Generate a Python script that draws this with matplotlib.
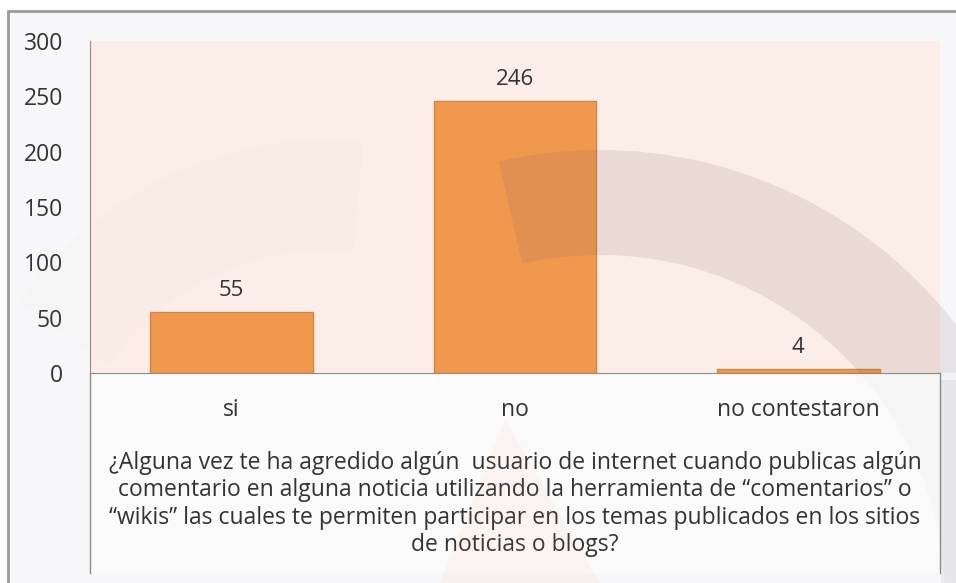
import matplotlib.pyplot as plt
from matplotlib.lines import Line2D
from matplotlib.patches import Rectangle, Wedge, Polygon
from matplotlib.transforms import Affine2D

categories = ['si', 'no', 'no contestaron']
values = [55, 246, 4]
y_ticks = [0, 50, 100, 150, 200, 250, 300]
question = ('¿Alguna vez te ha agredido algún  usuario de internet cuando publicas algún\n'
            'comentario en alguna noticia utilizando la herramienta de “comentarios” o\n'
            '“wikis” las cuales te permiten participar en los temas publicados en los sitios\n'
            'de noticias o blogs?')

plt.rcParams['font.family'] = ['Open Sans', 'DejaVu Sans']

W, H = 956, 583
fig = plt.figure(figsize=(W / 100, H / 100), dpi=100)
fig.patch.set_facecolor('white')
# pixel coords, origin at top left
px = Affine2D().scale(1 / W, -1 / H).translate(0, 1) + fig.transFigure

# outer frame and lighter lower panel
fig.add_artist(Rectangle((8, 11), 960, 580, transform=px, facecolor='#f7f7f9',
                         edgecolor='#9a9a9a', linewidth=2, zorder=-2))
fig.add_artist(Rectangle((90, 373), 850, 200, transform=px, facecolor='#fafafb',
                         edgecolor='none', zorder=-1))
fig.add_artist(Rectangle((941, 380), 30, 210, transform=px, facecolor='#ebebf0',
                         edgecolor='none', zorder=-1))

ax = fig.add_axes([90 / W, (H - 373) / H, 850 / W, 332 / H])
ax.set_facecolor('#fbede8')

x = range(len(categories))
ax.bar(x, values, width=0.575, color='#f1984f', edgecolor='#d9843a', linewidth=1)

for xi, v in zip(x, values):
    ax.annotate(str(v), (xi, v), xytext=(0, 15.5), textcoords='offset points',
                ha='center', va='center', fontsize=16, color='#333333')

ax.set_xlim(-0.5, 2.5)
ax.set_ylim(0, 300)
ax.set_yticks(y_ticks)
ax.set_yticklabels([str(t) for t in y_ticks], fontsize=16.5, color='#333333')
ax.set_xticks(list(x))
ax.set_xticklabels(categories, fontsize=16.5, color='#333333')
ax.tick_params(axis='y', length=0, pad=19.5)
ax.tick_params(axis='x', length=0, pad=18)

for s in ['top', 'right']:
    ax.spines[s].set_visible(False)
ax.spines['left'].set_color('#8c8c8c')
ax.spines['bottom'].set_color('#8c8c8c')

# side lines of the category box running down under the axis
fig.add_artist(Line2D([90, 90], [373, 573], color='#8c8c8c', linewidth=1, transform=px))
fig.add_artist(Line2D([940, 940], [373, 573], color='#8c8c8c', linewidth=1, transform=px))

fig.text(515 / W, (H - 504) / H, question, ha='center', va='center',
         fontsize=16.5, color='#333333', linespacing=1.2)

# faint watermark shapes lying over the chart
upper = Rectangle((0, 0), W, 373, transform=px)
lower = Rectangle((0, 373), W, 210, transform=px)
for clip, a in [(upper, 0.13), (lower, 0.03)]:
    arch = Wedge((600, 600), 450, 257, 360, width=105, transform=px,
                 facecolor='#705e60', edgecolor='none', alpha=a, zorder=5)
    fig.add_artist(arch)
    arch.set_clip_path(clip)
fig.add_artist(Wedge((330, 520), 380, 215, 275, width=110, transform=px,
                     facecolor='#d8c8b8', edgecolor='none', alpha=0.04, zorder=5))
fig.add_artist(Polygon([(440, 583), (505, 420), (600, 583)], closed=True, transform=px,
                       facecolor='#f08a60', edgecolor='none', alpha=0.06, zorder=5))

fig.savefig('out.png', dpi=100)
